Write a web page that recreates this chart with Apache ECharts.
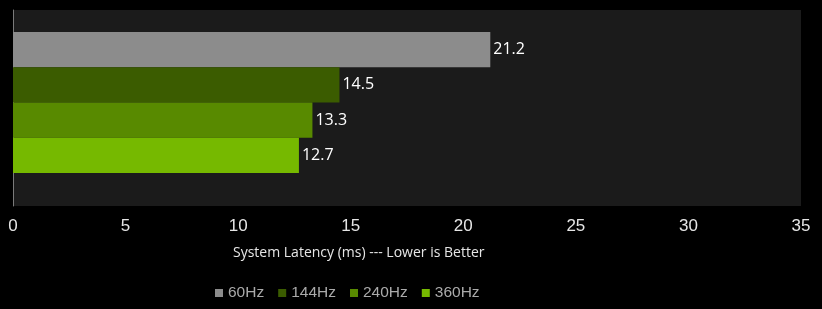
<!DOCTYPE html>
<html>
<head>
<meta charset="utf-8">
<script src="https://cdn.jsdelivr.net/npm/echarts@6/dist/echarts.min.js"></script>
<style>html,body{margin:0;padding:0;background:#000;}#c{width:822px;height:309px;}</style>
</head>
<body>
<div id="c"></div>
<script>
const categories = ['System Latency'];
const seriesNames = ['60Hz', '144Hz', '240Hz', '360Hz'];
const values60 = [21.2];
const values144 = [14.5];
const values240 = [13.3];
const values360 = [12.7];
const xTicks = [0, 5, 10, 15, 20, 25, 30, 35];
const axisTitle = 'System Latency (ms) --- Lower is Better';
const colors = ['#8c8c8c', '#3b5c00', '#588a00', '#76b900'];

const allValues = [values60, values144, values240, values360];
const chart = echarts.init(document.getElementById('c'));
const xMin = xTicks[0], xMax = xTicks[xTicks.length - 1];
chart.setOption({
  backgroundColor: '#000',
  animation: false,
  grid: [
    { left: 13, right: 21, top: 10, bottom: 103, show: true, backgroundColor: '#1b1b1b', borderWidth: 0 },
    { left: 13, right: 21, top: 10, bottom: 114, show: false }
  ],
  legend: {
    data: seriesNames,
    left: 210, top: 280,
    icon: 'rect', itemWidth: 8, itemHeight: 8, itemGap: 14,
    textStyle: { color: '#aaaaaa', fontFamily: 'Liberation Sans', fontSize: 15.5 }
  },
  xAxis: [
    {
      gridIndex: 0, type: 'value', min: xMin, max: xMax, interval: 5,
      axisLine: { show: false }, axisTick: { show: false }, splitLine: { show: false },
      axisLabel: { color: '#e6e6e6', fontFamily: 'Liberation Sans', fontSize: 17, margin: 12 }
    },
    {
      gridIndex: 1, type: 'value', min: xMin, max: xMax, interval: 5, show: false,
      splitLine: { show: false }
    }
  ],
  yAxis: [
    {
      gridIndex: 0, type: 'category', data: categories,
      axisLine: { show: true, lineStyle: { color: '#7a7a7a', width: 1 } },
      axisTick: { show: false }, axisLabel: { show: false }
    },
    {
      gridIndex: 1, type: 'category', data: categories, inverse: true, show: false
    }
  ],
  graphic: [{
    type: 'text', left: 233, top: 246,
    style: { text: axisTitle, fill: '#e6e6e6', font: '14px "Open Sans"' }
  }],
  series: seriesNames.map((n, i) => ({
    name: n, type: 'bar', data: allValues[i], xAxisIndex: 1, yAxisIndex: 1,
    barGap: '0%', barCategoryGap: '23.8%',
    itemStyle: { color: colors[i] },
    label: { show: true, position: 'right', distance: 3, color: '#ffffff', fontFamily: 'Open Sans', fontSize: 16 }
  }))
});
</script>
</body>
</html>
